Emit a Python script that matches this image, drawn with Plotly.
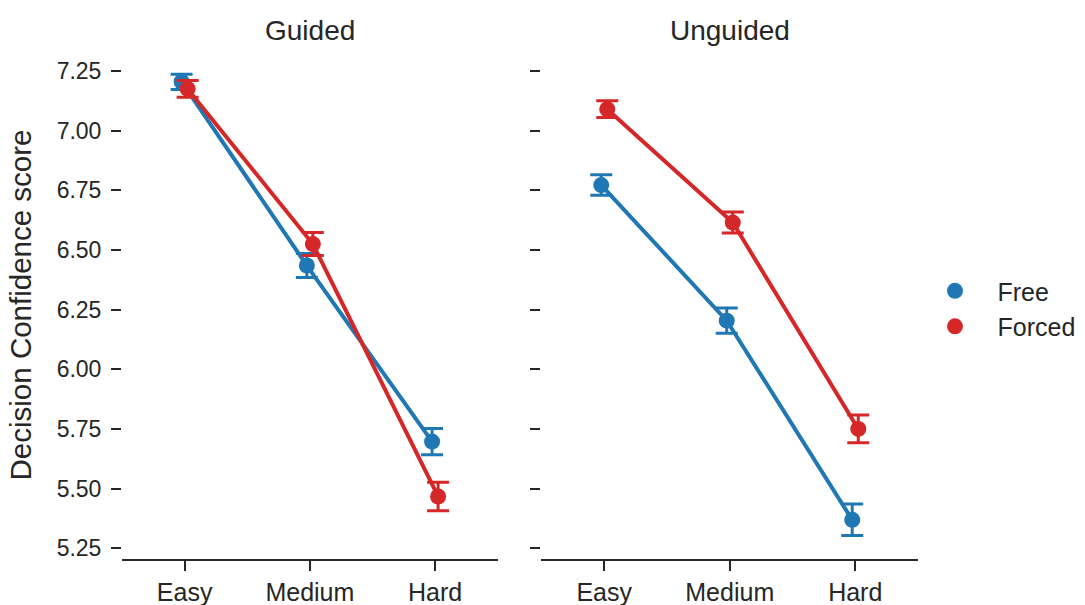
import plotly.graph_objects as go

difficulty = ["Easy", "Medium", "Hard"]
panels = ["Guided", "Unguided"]
series = ["Free", "Forced"]
colors = {"Free": "#1f77b4", "Forced": "#d62728"}

# mean values per panel/series
guided_free = [7.205, 6.435, 5.697]
guided_forced = [7.175, 6.525, 5.467]
unguided_free = [6.772, 6.204, 5.369]
unguided_forced = [7.090, 6.615, 5.750]

# error (half-width of CI)
guided_free_err = [0.032, 0.05, 0.055]
guided_forced_err = [0.035, 0.048, 0.06]
unguided_free_err = [0.043, 0.053, 0.066]
unguided_forced_err = [0.035, 0.044, 0.058]

yticks = [5.25, 5.50, 5.75, 6.00, 6.25, 6.50, 6.75, 7.00, 7.25]

data = {
    ("Guided", "Free"): (guided_free, guided_free_err),
    ("Guided", "Forced"): (guided_forced, guided_forced_err),
    ("Unguided", "Free"): (unguided_free, unguided_free_err),
    ("Unguided", "Forced"): (unguided_forced, unguided_forced_err),
}
dodge = {"Free": -0.024, "Forced": 0.024}

FONT = "Liberation Sans, Arial, sans-serif"
INK = "#262626"

fig = go.Figure()
for pi, panel in enumerate(panels):
    xa = "x" if pi == 0 else "x2"
    ya = "y" if pi == 0 else "y2"
    for s in series:
        vals, errs = data[(panel, s)]
        fig.add_trace(go.Scatter(
            x=[i + dodge[s] for i in range(len(difficulty))],
            y=vals,
            mode="lines+markers",
            line=dict(color=colors[s], width=4),
            marker=dict(color=colors[s], size=16),
            error_y=dict(type="data", array=errs, color=colors[s], thickness=3, width=11),
            xaxis=xa, yaxis=ya, name=s, showlegend=False,
        ))

for s in series:
    fig.add_trace(go.Scatter(
        x=[None], y=[None], mode="markers", name=s,
        marker=dict(color=colors[s], size=16), showlegend=True,
    ))

yrange = [5.205, 7.334]
xcommon = dict(
    range=[-0.5, 2.5], tickmode="array", tickvals=[0, 1, 2], ticktext=difficulty,
    showline=True, linecolor=INK, linewidth=2, ticks="outside", ticklen=10,
    tickwidth=2, tickcolor=INK, showgrid=False, zeroline=False, automargin=False,
    tickfont=dict(family=FONT, size=25, color=INK),
)
ycommon = dict(
    range=yrange, tickmode="array", tickvals=yticks,
    showline=False, ticks="outside", ticklen=10, tickwidth=2, tickcolor=INK,
    showgrid=False, zeroline=False, automargin=False,
    tickfont=dict(family=FONT, size=23, color=INK),
)

fig.update_layout(
    template="none",
    width=1085, height=605,
    margin=dict(l=122, r=167, t=51, b=46, autoexpand=False),
    paper_bgcolor="white", plot_bgcolor="white",
    font=dict(family=FONT, color=INK),
    xaxis=dict(domain=[0, 0.472], anchor="y", **xcommon),
    xaxis2=dict(domain=[0.527, 1.0], anchor="y2", **xcommon),
    yaxis=dict(anchor="x", tickformat=".2f", ticklabelstandoff=5,
               title=dict(text="Decision Confidence score", font=dict(family=FONT, size=29.5, color=INK), standoff=16),
               **ycommon),
    yaxis2=dict(anchor="x2", showticklabels=False, matches="y", **ycommon),
    legend=dict(xref="container", yref="container", x=0.841, y=0.49,
                xanchor="left", yanchor="middle",
                font=dict(family=FONT, size=25, color=INK),
                itemwidth=75, tracegroupgap=0, bgcolor="rgba(0,0,0,0)"),
    showlegend=True,
)

for pi, panel in enumerate(panels):
    xd = [0, 0.472] if pi == 0 else [0.527, 1.0]
    fig.add_annotation(
        text=panel, x=(xd[0] + xd[1]) / 2, y=1, xref="paper", yref="paper",
        xanchor="center", yanchor="middle", yshift=21, showarrow=False,
        font=dict(family=FONT, size=28, color=INK),
    )

fig.write_html("out.html", config={"displayModeBar": False},
               post_script="document.body.style.margin='0';document.body.style.overflow='hidden';")
